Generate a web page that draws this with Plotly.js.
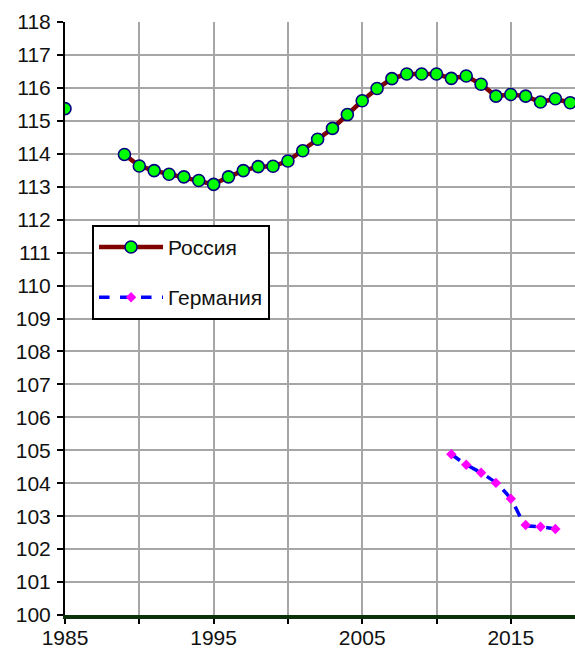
<!DOCTYPE html>
<html>
<head>
<meta charset="utf-8">
<script src="https://cdn.plot.ly/plotly-3.0.1.min.js"></script>
<style>
  html, body { margin: 0; padding: 0; background: #fff; }
  #chart { width: 575px; height: 651px; }
</style>
</head>
<body>
<div id="chart"></div>
<script>
// years and values
var russiaYears = [1985, 1986, 1987, 1988, 1989, 1990, 1991, 1992, 1993, 1994, 1995, 1996, 1997, 1998,
  1999, 2000, 2001, 2002, 2003, 2004, 2005, 2006, 2007, 2008, 2009, 2010, 2011, 2012, 2013, 2014,
  2015, 2016, 2017, 2018, 2019];
var russiaValues = [115.37, null, null, null, 113.98, 113.63, 113.49, 113.38, 113.30, 113.19, 113.07, 113.30,
  113.49, 113.61, 113.62, 113.78, 114.09, 114.44, 114.77, 115.19, 115.61, 115.98, 116.28, 116.42,
  116.42, 116.42, 116.29, 116.36, 116.11, 115.75, 115.80, 115.75, 115.57, 115.67, 115.55];

var germanyYears = [2011, 2012, 2013, 2014, 2015, 2016, 2017, 2018];
var germanyValues = [104.88, 104.56, 104.32, 104.01, 103.53, 102.73, 102.68, 102.61];

var seriesNames = ['Россия', 'Германия'];

var font = {family: 'Arial, "Liberation Sans", sans-serif', size: 21, color: '#111'};

var data = [
  {
    type: 'scatter',
    x: russiaYears,
    y: russiaValues,
    name: seriesNames[0],
    mode: 'lines+markers',
    connectgaps: false,
    legendgroup: 'a',
    line: {color: '#800000', width: 4.5},
    marker: {symbol: 'circle', size: 12, color: '#00ff00', line: {color: '#000080', width: 1.6}}
  },
  {
    type: 'scatter',
    x: germanyYears,
    y: germanyValues,
    name: seriesNames[1],
    mode: 'lines+markers',
    legendgroup: 'b',
    line: {color: '#0000ff', width: 3.5, dash: 'dash', shape: 'spline', smoothing: 0.6},
    marker: {symbol: 'diamond', size: 8, color: '#ff00ff'}
  }
];

var layout = {
  width: 575,
  height: 651,
  margin: {l: 65, r: 0, t: 22, b: 36},
  paper_bgcolor: '#fff',
  plot_bgcolor: '#fff',
  font: font,
  showlegend: true,
  xaxis: {
    range: [1985, 2019.32],
    tickmode: 'linear',
    tick0: 1985,
    dtick: 10,
    ticks: 'outside',
    ticklen: 5,
    tickwidth: 2,
    tickcolor: '#000',
    ticklabelstandoff: -4,
    showgrid: true,
    gridcolor: '#a6a6a6',
    gridwidth: 2,
    minor: {dtick: 5, tick0: 1985, showgrid: true, gridcolor: '#a6a6a6', gridwidth: 2,
      ticks: 'outside', ticklen: 5, tickwidth: 2, tickcolor: '#000'},
    showline: true,
    linecolor: '#0a330a',
    linewidth: 4,
    zeroline: false,
    tickfont: font,
    fixedrange: true
  },
  yaxis: {
    range: [100, 118],
    tickmode: 'linear',
    tick0: 100,
    dtick: 1,
    ticks: 'outside',
    ticklen: 6,
    tickwidth: 2,
    tickcolor: '#000',
    ticklabelstandoff: 2,
    showgrid: true,
    gridcolor: '#a6a6a6',
    gridwidth: 2,
    showline: true,
    linecolor: '#000',
    linewidth: 2,
    zeroline: false,
    tickfont: font,
    fixedrange: true
  },
  legend: {
    x: 0.053,
    y: 0.658,
    xanchor: 'left',
    yanchor: 'top',
    bgcolor: '#fff',
    bordercolor: '#000',
    borderwidth: 2,
    font: font,
    traceorder: 'grouped',
    tracegroupgap: 20,
    itemwidth: 64
  }
};

Plotly.newPlot('chart', data, layout, {displayModeBar: false, staticPlot: true});
</script>
</body>
</html>
